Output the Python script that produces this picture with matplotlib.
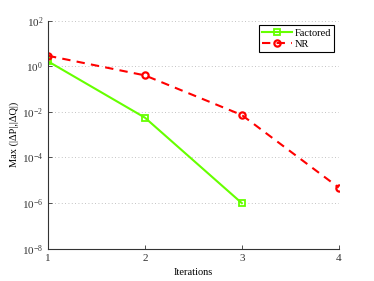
import matplotlib
matplotlib.use("Agg")
import matplotlib.pyplot as plt

iterations_f = [1, 2, 3]
factored = [1.65, 5.6e-3, 1.0e-6]
iterations_nr = [1, 2, 3, 4]
nr = [2.9, 0.4, 7.3e-3, 4.8e-6]

plt.rcParams['font.family'] = ['Liberation Serif', 'DejaVu Serif']
plt.rcParams['mathtext.fontset'] = 'stix'

fig = plt.figure(figsize=(3.74, 2.81), dpi=100)
ax = fig.add_axes([48/374, 1 - 248.7/281, (338.7-48)/374, (248.7-20.7)/281])

ax.semilogy(iterations_f, factored, '-s', color='#66ff00', lw=1.5,
            markersize=3.8, markerfacecolor='none', markeredgewidth=1.3, label='Factored')
ax.semilogy(iterations_nr, nr, '--o', color='#ff0000', lw=1.5, dashes=(4, 3),
            markersize=4.5, markerfacecolor='none', markeredgewidth=1.6, label='NR')

ax.set_xlim(1, 4)
ax.set_ylim(1e-8, 1e2)
ax.set_xticks([1, 2, 3, 4])
ax.set_yticks([1e-8, 1e-6, 1e-4, 1e-2, 1e0, 1e2])
ax.minorticks_off()
ax.yaxis.grid(True, linestyle=(0, (1, 3)), color='#b0b0b0', lw=0.6)
ax.spines['top'].set_visible(False)
ax.spines['right'].set_visible(False)
for s in ['left', 'bottom']:
    ax.spines[s].set_color('#333333')
    ax.spines[s].set_linewidth(0.8)
ax.tick_params(direction='in', length=3, labelsize=8, colors='#333333', width=0.6)
ax.set_xlabel('Iterations', fontsize=7.5, labelpad=4)
ax.set_ylabel('Max (|ΔP|,|ΔQ|)', fontsize=7.5, labelpad=2)

leg = ax.legend(loc='upper right', bbox_to_anchor=(0.985, 0.98), fontsize=7.5, fancybox=False,
                edgecolor='black', framealpha=1, borderpad=0.3, labelspacing=0.2,
                handlelength=2.8, handletextpad=0.3, borderaxespad=0)
leg.get_frame().set_linewidth(0.8)

fig.savefig('out.png', dpi=100)
